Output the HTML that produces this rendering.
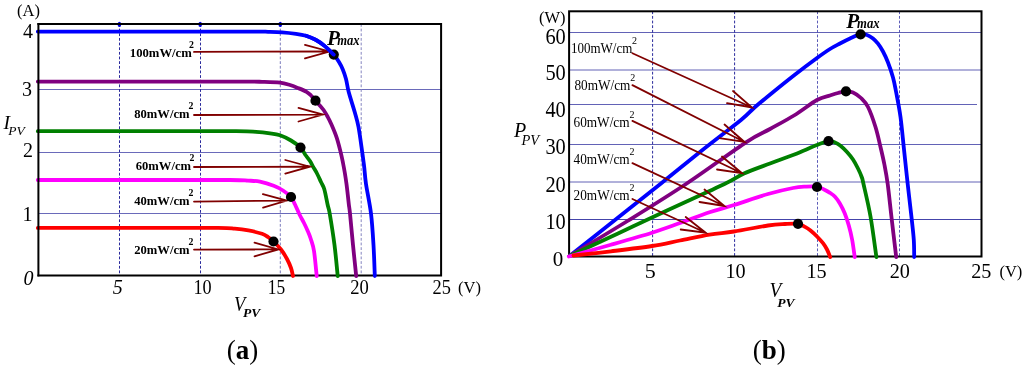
<!DOCTYPE html>
<html><head><meta charset="utf-8"><title>PV characteristics</title>
<style>
html,body{margin:0;padding:0;background:#fff;}
body{width:1024px;height:367px;overflow:hidden;font-family:"Liberation Serif",serif;}
svg{display:block;}
text{font-family:"Liberation Serif",serif;fill:#000;}
.b{font-weight:bold;}
.i{font-style:italic;}
.bi{font-weight:bold;font-style:italic;}
.curve{fill:none;stroke-width:3.8;stroke-linejoin:round;stroke-linecap:round;}
.arr{fill:none;stroke:#800000;stroke-width:1.8;stroke-linecap:round;}
</style></head><body>
<svg width="1024" height="367" viewBox="0 0 1024 367">
<rect width="1024" height="367" fill="#fff"/>

<g id="left">
<line x1="38.4" y1="89.5" x2="441.1" y2="89.5" stroke="#6a6aba" stroke-width="1"/>
<line x1="38.4" y1="152.5" x2="441.1" y2="152.5" stroke="#6a6aba" stroke-width="1"/>
<line x1="38.4" y1="213.5" x2="441.1" y2="213.5" stroke="#6a6aba" stroke-width="1"/>
<line x1="119.5" y1="24.0" x2="119.5" y2="275.4" stroke="#2a2a9c" stroke-opacity="1" stroke-width="1" stroke-dasharray="2.8 1.85"/>
<line x1="200.5" y1="24.0" x2="200.5" y2="275.4" stroke="#2a2a9c" stroke-opacity="1" stroke-width="1" stroke-dasharray="2.8 1.85"/>
<line x1="280.3" y1="24.0" x2="280.3" y2="275.4" stroke="#7a7abc" stroke-opacity="1" stroke-width="1" stroke-dasharray="2.8 1.85"/>
<line x1="361.2" y1="24.0" x2="361.2" y2="275.4" stroke="#8484c0" stroke-opacity="1" stroke-width="1" stroke-dasharray="2.8 1.85"/>
<ellipse cx="119.4" cy="24.4" rx="1.8" ry="2.6" fill="#0000e6"/>
<ellipse cx="200.2" cy="24.4" rx="1.8" ry="2.6" fill="#0000e6"/>
<ellipse cx="280.3" cy="24.4" rx="1.8" ry="2.6" fill="#0000e6"/>
<path d="M38.4 24.0 H441.1 V275.4 H38.4" fill="none" stroke="#000" stroke-width="2" stroke-linecap="square"/>
<path class="curve" stroke="#0000ff" d="M37.80 31.60 C56.50 31.60 114.63 31.60 150.00 31.60 C185.37 31.60 230.33 31.57 250.00 31.60 C269.67 31.63 262.67 31.68 268.00 31.80 C273.33 31.92 277.33 31.97 282.00 32.30 C286.67 32.63 292.00 33.22 296.00 33.80 C300.00 34.38 302.67 34.77 306.00 35.80 C309.33 36.83 312.97 38.37 316.00 40.00 C319.03 41.63 321.23 43.17 324.20 45.60 C327.17 48.03 331.33 51.87 333.80 54.60 C336.27 57.33 337.52 59.57 339.00 62.00 C340.48 64.43 341.53 66.37 342.70 69.20 C343.87 72.03 345.00 75.20 346.00 79.00 C347.00 82.80 347.25 86.50 348.70 92.00 C350.15 97.50 353.07 106.17 354.70 112.00 C356.33 117.83 357.25 120.33 358.50 127.00 C359.75 133.67 361.25 145.33 362.20 152.00 C363.15 158.67 363.57 161.67 364.20 167.00 C364.83 172.33 364.87 176.25 366.00 184.00 C367.13 191.75 369.75 203.33 371.00 213.50 C372.25 223.67 372.87 234.58 373.50 245.00 C374.13 255.42 374.58 270.83 374.80 276.00"/>
<path class="curve" stroke="#800080" d="M37.80 81.60 C56.50 81.60 116.30 81.60 150.00 81.60 C183.70 81.60 221.33 81.57 240.00 81.60 C258.67 81.63 255.33 81.63 262.00 81.80 C268.67 81.97 275.33 82.07 280.00 82.60 C284.67 83.13 287.00 84.10 290.00 85.00 C293.00 85.90 295.25 86.87 298.00 88.00 C300.75 89.13 304.33 90.55 306.50 91.80 C308.67 93.05 309.50 94.02 311.00 95.50 C312.50 96.98 314.03 99.03 315.50 100.70 C316.97 102.37 318.45 103.95 319.80 105.50 C321.15 107.05 322.32 108.17 323.60 110.00 C324.88 111.83 326.25 114.22 327.50 116.50 C328.75 118.78 329.58 120.22 331.10 123.70 C332.62 127.18 335.00 132.62 336.60 137.40 C338.20 142.18 339.63 148.13 340.70 152.40 C341.77 156.67 342.32 159.60 343.00 163.00 C343.68 166.40 344.22 169.30 344.80 172.80 C345.38 176.30 346.00 180.30 346.50 184.00 C347.00 187.70 347.40 191.50 347.80 195.00 C348.20 198.50 348.53 201.92 348.90 205.00 C349.27 208.08 349.32 206.83 350.00 213.50 C350.68 220.17 351.97 234.58 353.00 245.00 C354.03 255.42 355.67 270.83 356.20 276.00"/>
<path class="curve" stroke="#008000" d="M37.80 131.20 C56.50 131.20 116.97 131.20 150.00 131.20 C183.03 131.20 218.33 131.10 236.00 131.20 C253.67 131.30 250.33 131.45 256.00 131.80 C261.67 132.15 266.00 132.72 270.00 133.30 C274.00 133.88 276.50 134.10 280.00 135.30 C283.50 136.50 287.58 138.47 291.00 140.50 C294.42 142.53 298.15 145.17 300.50 147.50 C302.85 149.83 303.52 152.25 305.10 154.50 C306.68 156.75 308.68 158.98 310.00 161.00 C311.32 163.02 311.83 164.52 313.00 166.60 C314.17 168.68 315.67 170.93 317.00 173.50 C318.33 176.07 319.78 179.38 321.00 182.00 C322.22 184.62 323.18 185.37 324.30 189.20 C325.42 193.03 326.80 200.95 327.70 205.00 C328.60 209.05 328.57 206.83 329.70 213.50 C330.83 220.17 333.17 234.58 334.50 245.00 C335.83 255.42 337.17 270.83 337.70 276.00"/>
<path class="curve" stroke="#ff00ff" d="M37.80 180.00 C56.50 180.00 117.97 180.00 150.00 180.00 C182.03 180.00 213.67 179.90 230.00 180.00 C246.33 180.10 243.00 180.32 248.00 180.60 C253.00 180.88 255.72 180.83 260.00 181.70 C264.28 182.57 269.87 184.33 273.70 185.80 C277.53 187.27 280.12 188.63 283.00 190.50 C285.88 192.37 289.00 194.67 291.00 197.00 C293.00 199.33 293.58 201.58 295.00 204.50 C296.42 207.42 298.00 211.42 299.50 214.50 C301.00 217.58 302.67 220.33 304.00 223.00 C305.33 225.67 306.37 227.83 307.50 230.50 C308.63 233.17 309.72 235.58 310.80 239.00 C311.88 242.42 313.02 244.83 314.00 251.00 C314.98 257.17 316.25 271.83 316.70 276.00"/>
<path class="curve" stroke="#ff0000" d="M37.80 227.90 C56.50 227.90 119.97 227.90 150.00 227.90 C180.03 227.90 203.88 227.78 218.00 227.90 C232.12 228.02 229.63 228.18 234.70 228.60 C239.77 229.02 243.85 229.53 248.40 230.40 C252.95 231.27 258.73 232.70 262.00 233.80 C265.27 234.90 266.08 235.72 268.00 237.00 C269.92 238.28 271.33 239.42 273.50 241.50 C275.67 243.58 278.75 246.58 281.00 249.50 C283.25 252.42 285.33 255.92 287.00 259.00 C288.67 262.08 290.00 265.17 291.00 268.00 C292.00 270.83 292.67 274.67 293.00 276.00"/>
<line x1="38.4" y1="24.0" x2="38.4" y2="275.4" stroke="#000" stroke-width="2" stroke-linecap="square"/>
<path class="arr" d="M194.0 51.9 L329.5 51.5 M305.0 58.4 L329.5 51.5 L305.0 44.8"/>
<path class="arr" d="M194.0 115.0 L323.0 114.6 M298.5 121.5 L323.0 114.6 L298.5 107.9"/>
<path class="arr" d="M194.0 167.0 L309.8 166.7 M285.3 173.6 L309.8 166.7 L285.3 160.0"/>
<path class="arr" d="M194.0 201.6 L286.8 200.6 M263.1 207.7 L286.8 200.6 L262.9 194.1"/>
<path class="arr" d="M194.0 249.6 L278.3 249.4 M254.5 256.3 L278.3 249.4 L254.5 242.7"/>
<circle cx="333.8" cy="54.6" r="5.1" fill="#000"/>
<circle cx="315.5" cy="100.7" r="5.1" fill="#000"/>
<circle cx="300.5" cy="147.5" r="5.1" fill="#000"/>
<circle cx="291.0" cy="197.0" r="5.1" fill="#000"/>
<circle cx="273.5" cy="241.5" r="5.1" fill="#000"/>
<path class="curve" stroke="#0000ff" d="M306.00 35.80 C307.67 36.50 312.97 38.37 316.00 40.00 C319.03 41.63 321.23 43.17 324.20 45.60 C327.17 48.03 332.20 53.10 333.80 54.60"/>
<text x="129.8" y="56.7" font-size="13" class="b" textLength="62.0" lengthAdjust="spacingAndGlyphs">100mW/cm</text>
<text x="189.0" y="47.8" font-size="9.8" class="b">2</text>
<text x="134.2" y="118.2" font-size="13" class="b" textLength="55.3" lengthAdjust="spacingAndGlyphs">80mW/cm</text>
<text x="188.5" y="109.3" font-size="9.8" class="b">2</text>
<text x="135.7" y="170.2" font-size="13" class="b" textLength="55.3" lengthAdjust="spacingAndGlyphs">60mW/cm</text>
<text x="189.5" y="161.3" font-size="9.8" class="b">2</text>
<text x="134.2" y="205.2" font-size="13" class="b" textLength="55.3" lengthAdjust="spacingAndGlyphs">40mW/cm</text>
<text x="188.5" y="196.3" font-size="9.8" class="b">2</text>
<text x="134.2" y="254.0" font-size="13" class="b" textLength="55.3" lengthAdjust="spacingAndGlyphs">20mW/cm</text>
<text x="188.5" y="245.1" font-size="9.8" class="b">2</text>
<text x="327.0" y="44.6" font-size="21" class="bi">P</text>
<text x="337.2" y="44.6" font-size="13.6" class="bi" textLength="22.4" lengthAdjust="spacingAndGlyphs">max</text>
<text x="17.0" y="15.8" font-size="16.5">(A)</text>
<text x="33.0" y="37.6" font-size="20" text-anchor="end">4</text>
<text x="32.0" y="96.0" font-size="20" text-anchor="end">3</text>
<text x="33.0" y="157.2" font-size="20" text-anchor="end">2</text>
<text x="32.5" y="220.8" font-size="20" text-anchor="end">1</text>
<text x="33.5" y="284.8" font-size="20" class="i" text-anchor="end">0</text>
<text x="117.8" y="293.6" font-size="20" class="i" text-anchor="middle">5</text>
<text x="202.6" y="293.6" font-size="20" text-anchor="middle" textLength="18.2" lengthAdjust="spacingAndGlyphs">10</text>
<text x="276.4" y="293.6" font-size="20" text-anchor="middle" textLength="17.4" lengthAdjust="spacingAndGlyphs">15</text>
<text x="359.5" y="293.6" font-size="20" text-anchor="middle" textLength="18.6" lengthAdjust="spacingAndGlyphs">20</text>
<text x="441.7" y="293.6" font-size="20" text-anchor="middle" textLength="18.4" lengthAdjust="spacingAndGlyphs">25</text>
<text x="458.0" y="292.8" font-size="16.5">(V)</text>
<text x="3.5" y="129.4" font-size="19.5" class="i">I</text>
<text x="8.3" y="135.4" font-size="13.5" class="i">PV</text>
<text x="234.0" y="311.0" font-size="20" class="i" textLength="11.3" lengthAdjust="spacingAndGlyphs">V</text>
<text x="243.0" y="317.3" font-size="13.5" class="bi">PV</text>
<text x="226.8" y="359.1" font-size="27">(<tspan class="b">a</tspan>)</text>
</g>
<g id="right">
<line x1="569.1" y1="32.5" x2="981.5" y2="32.5" stroke="#6262b6" stroke-width="1"/>
<line x1="569.1" y1="70.0" x2="981.5" y2="70.0" stroke="#6262b6" stroke-width="1"/>
<line x1="569.1" y1="104.5" x2="977.0" y2="104.5" stroke="#6262b6" stroke-width="1"/>
<line x1="569.1" y1="144.5" x2="981.5" y2="144.5" stroke="#6262b6" stroke-width="1"/>
<line x1="569.1" y1="182.0" x2="981.5" y2="182.0" stroke="#6262b6" stroke-width="1"/>
<line x1="569.1" y1="219.5" x2="981.5" y2="219.5" stroke="#4444aa" stroke-width="1"/>
<line x1="652.6" y1="11.3" x2="652.6" y2="256.5" stroke="#2a2a9c" stroke-opacity="1" stroke-width="1" stroke-dasharray="2.8 1.85"/>
<line x1="734.6" y1="11.3" x2="734.6" y2="256.5" stroke="#2a2a9c" stroke-opacity="1" stroke-width="1" stroke-dasharray="2.8 1.85"/>
<line x1="817.5" y1="11.3" x2="817.5" y2="256.5" stroke="#4a4ab0" stroke-opacity="0.9" stroke-width="1" stroke-dasharray="2.8 1.85"/>
<line x1="899.5" y1="11.3" x2="899.5" y2="256.5" stroke="#4a4ab0" stroke-opacity="0.9" stroke-width="1" stroke-dasharray="2.8 1.85"/>
<rect x="569.1" y="11.3" width="412.4" height="245.2" fill="none" stroke="#000" stroke-width="2"/>
<path class="curve" stroke="#0000ff" d="M569.50 256.00 C577.08 250.00 599.75 232.08 615.00 220.00 C630.25 207.92 646.42 195.17 661.00 183.50 C675.58 171.83 689.17 160.58 702.50 150.00 C715.83 139.42 732.42 127.00 741.00 120.00 C749.58 113.00 748.83 112.50 754.00 108.00 C759.17 103.50 765.25 98.50 772.00 93.00 C778.75 87.50 787.00 80.83 794.50 75.00 C802.00 69.17 811.08 62.33 817.00 58.00 C822.92 53.67 826.17 51.42 830.00 49.00 C833.83 46.58 836.67 45.25 840.00 43.50 C843.33 41.75 846.67 40.02 850.00 38.50 C853.33 36.98 857.17 34.98 860.00 34.40 C862.83 33.82 864.83 34.32 867.00 35.00 C869.17 35.68 871.17 37.05 873.00 38.50 C874.83 39.95 876.33 41.53 878.00 43.70 C879.67 45.87 881.33 48.37 883.00 51.50 C884.67 54.63 886.33 58.17 888.00 62.50 C889.67 66.83 891.67 72.67 893.00 77.50 C894.33 82.33 894.75 84.92 896.00 91.50 C897.25 98.08 899.17 107.33 900.50 117.00 C901.83 126.67 902.80 138.33 904.00 149.50 C905.20 160.67 906.42 172.42 907.70 184.00 C908.98 195.58 910.68 209.67 911.70 219.00 C912.72 228.33 913.38 233.67 913.80 240.00 C914.22 246.33 914.13 254.17 914.20 257.00"/>
<path class="curve" stroke="#800080" d="M569.50 256.00 C579.17 250.17 608.08 233.00 627.50 221.00 C646.92 209.00 666.25 197.12 686.00 184.00 C705.75 170.88 732.00 151.47 746.00 142.30 C760.00 133.13 762.00 133.47 770.00 129.00 C778.00 124.53 786.17 120.33 794.00 115.50 C801.83 110.67 811.00 103.33 817.00 100.00 C823.00 96.67 826.50 96.67 830.00 95.50 C833.50 94.33 835.33 93.68 838.00 93.00 C840.67 92.32 843.50 91.48 846.00 91.40 C848.50 91.32 850.50 91.40 853.00 92.50 C855.50 93.60 858.50 95.58 861.00 98.00 C863.50 100.42 865.58 102.17 868.00 107.00 C870.42 111.83 873.42 120.33 875.50 127.00 C877.58 133.67 879.00 140.67 880.50 147.00 C882.00 153.33 883.30 158.83 884.50 165.00 C885.70 171.17 886.50 175.00 887.70 184.00 C888.90 193.00 890.28 206.83 891.70 219.00 C893.12 231.17 895.45 250.67 896.20 257.00"/>
<path class="curve" stroke="#008000" d="M569.50 256.00 C577.58 252.25 601.75 241.08 618.00 233.50 C634.25 225.92 649.25 218.75 667.00 210.50 C684.75 202.25 711.67 190.17 724.50 184.00 C737.33 177.83 736.42 176.92 744.00 173.50 C751.58 170.08 761.83 166.58 770.00 163.50 C778.17 160.42 787.33 157.17 793.00 155.00 C798.67 152.83 800.00 152.17 804.00 150.50 C808.00 148.83 812.92 146.55 817.00 145.00 C821.08 143.45 825.50 141.62 828.50 141.20 C831.50 140.78 833.00 141.75 835.00 142.50 C837.00 143.25 838.50 144.12 840.50 145.70 C842.50 147.28 844.92 149.70 847.00 152.00 C849.08 154.30 851.17 156.75 853.00 159.50 C854.83 162.25 856.55 165.58 858.00 168.50 C859.45 171.42 860.78 174.42 861.70 177.00 C862.62 179.58 862.03 177.42 863.50 184.00 C864.97 190.58 868.35 204.33 870.50 216.50 C872.65 228.67 875.42 250.25 876.40 257.00"/>
<path class="curve" stroke="#ff00ff" d="M568.80 256.50 C575.67 254.58 596.13 248.97 610.00 245.00 C623.87 241.03 640.33 236.37 652.00 232.70 C663.67 229.03 670.42 226.40 680.00 223.00 C689.58 219.60 700.50 215.30 709.50 212.30 C718.50 209.30 724.25 208.05 734.00 205.00 C743.75 201.95 758.17 196.83 768.00 194.00 C777.83 191.17 786.67 189.23 793.00 188.00 C799.33 186.77 802.00 186.83 806.00 186.60 C810.00 186.37 814.00 186.12 817.00 186.60 C820.00 187.08 821.83 188.47 824.00 189.50 C826.17 190.53 828.17 191.58 830.00 192.80 C831.83 194.02 833.33 194.98 835.00 196.80 C836.67 198.62 838.38 200.95 840.00 203.70 C841.62 206.45 843.23 209.65 844.70 213.30 C846.17 216.95 847.55 221.15 848.80 225.60 C850.05 230.05 851.22 234.77 852.20 240.00 C853.18 245.23 854.28 254.17 854.70 257.00"/>
<path class="curve" stroke="#ff0000" d="M573.50 255.50 C579.75 254.80 597.92 252.88 611.00 251.30 C624.08 249.72 640.50 247.80 652.00 246.00 C663.50 244.20 670.42 242.40 680.00 240.50 C689.58 238.60 700.50 236.10 709.50 234.60 C718.50 233.10 724.25 233.02 734.00 231.50 C743.75 229.98 759.50 226.75 768.00 225.50 C776.50 224.25 780.00 224.28 785.00 224.00 C790.00 223.72 794.67 223.33 798.00 223.80 C801.33 224.27 802.92 225.68 805.00 226.80 C807.08 227.92 808.50 228.88 810.50 230.50 C812.50 232.12 814.92 234.38 817.00 236.50 C819.08 238.62 821.33 241.03 823.00 243.20 C824.67 245.37 825.80 247.20 827.00 249.50 C828.20 251.80 829.67 255.75 830.20 257.00"/>
<path class="arr" d="M632.4 53.2 L752.0 107.5 M727.0 103.2 L752.0 107.5 L733.0 91.0"/>
<path class="arr" d="M632.4 85.1 L744.5 142.0 M719.5 138.2 L744.5 142.0 L724.5 124.5"/>
<path class="arr" d="M632.4 120.9 L742.0 173.2 M717.0 169.5 L742.0 173.2 L722.0 156.5"/>
<path class="arr" d="M632.4 163.1 L724.5 206.0 M699.5 202.0 L724.5 206.0 L704.5 189.5"/>
<path class="arr" d="M632.4 199.0 L705.7 232.7 M680.7 229.5 L705.7 232.7 L685.7 217.0"/>
<circle cx="860.6" cy="34.3" r="5.1" fill="#000"/>
<circle cx="846.0" cy="91.4" r="5.1" fill="#000"/>
<circle cx="828.5" cy="141.2" r="5.1" fill="#000"/>
<circle cx="817.0" cy="187.0" r="5.1" fill="#000"/>
<circle cx="798.0" cy="223.8" r="5.1" fill="#000"/>
<text x="571.0" y="52.7" font-size="13.6" textLength="61.3" lengthAdjust="spacingAndGlyphs">100mW/cm</text>
<text x="632.1" y="43.6" font-size="10">2</text>
<text x="574.4" y="90.3" font-size="13.6" textLength="56.0" lengthAdjust="spacingAndGlyphs">80mW/cm</text>
<text x="630.2" y="81.2" font-size="10">2</text>
<text x="573.5" y="127.1" font-size="13.6" textLength="56.1" lengthAdjust="spacingAndGlyphs">60mW/cm</text>
<text x="629.4" y="118.0" font-size="10">2</text>
<text x="573.6" y="164.0" font-size="13.6" textLength="56.0" lengthAdjust="spacingAndGlyphs">40mW/cm</text>
<text x="629.4" y="154.9" font-size="10">2</text>
<text x="573.6" y="199.8" font-size="13.6" textLength="56.0" lengthAdjust="spacingAndGlyphs">20mW/cm</text>
<text x="629.4" y="190.7" font-size="10">2</text>
<text x="846.3" y="27.5" font-size="21" class="bi">P</text>
<text x="857.0" y="27.5" font-size="13.6" class="bi" textLength="22.6" lengthAdjust="spacingAndGlyphs">max</text>
<text x="539.0" y="23.0" font-size="16.5">(W)</text>
<text x="565.8" y="44.4" font-size="22.5" text-anchor="end" textLength="20.4" lengthAdjust="spacingAndGlyphs">60</text>
<text x="565.8" y="79.5" font-size="22.5" text-anchor="end" textLength="20.4" lengthAdjust="spacingAndGlyphs">50</text>
<text x="565.8" y="116.6" font-size="22.5" text-anchor="end" textLength="20.4" lengthAdjust="spacingAndGlyphs">40</text>
<text x="565.8" y="154.0" font-size="22.5" text-anchor="end" textLength="20.4" lengthAdjust="spacingAndGlyphs">30</text>
<text x="565.8" y="192.0" font-size="22.5" text-anchor="end" textLength="20.4" lengthAdjust="spacingAndGlyphs">20</text>
<text x="565.8" y="229.4" font-size="22.5" text-anchor="end" textLength="20.4" lengthAdjust="spacingAndGlyphs">10</text>
<text x="563.2" y="265.7" font-size="21" text-anchor="end">0</text>
<text x="650.3" y="277.8" font-size="22" text-anchor="middle">5</text>
<text x="735.6" y="277.8" font-size="22" text-anchor="middle" textLength="20.2" lengthAdjust="spacingAndGlyphs">10</text>
<text x="816.6" y="277.8" font-size="22" text-anchor="middle" textLength="20.2" lengthAdjust="spacingAndGlyphs">15</text>
<text x="899.8" y="277.8" font-size="22" text-anchor="middle" textLength="20.2" lengthAdjust="spacingAndGlyphs">20</text>
<text x="981.3" y="277.8" font-size="22" text-anchor="middle" textLength="20.2" lengthAdjust="spacingAndGlyphs">25</text>
<text x="999.4" y="276.8" font-size="16.5">(V)</text>
<text x="514.0" y="136.7" font-size="20" class="i">P</text>
<text x="521.5" y="144.5" font-size="14.5" class="i">PV</text>
<text x="769.6" y="296.7" font-size="20.7" class="i" textLength="11.8" lengthAdjust="spacingAndGlyphs">V</text>
<text x="777.2" y="306.7" font-size="13.5" class="bi">PV</text>
<text x="752.7" y="359.1" font-size="27">(<tspan class="b">b</tspan>)</text>
</g>
</svg></body></html>
